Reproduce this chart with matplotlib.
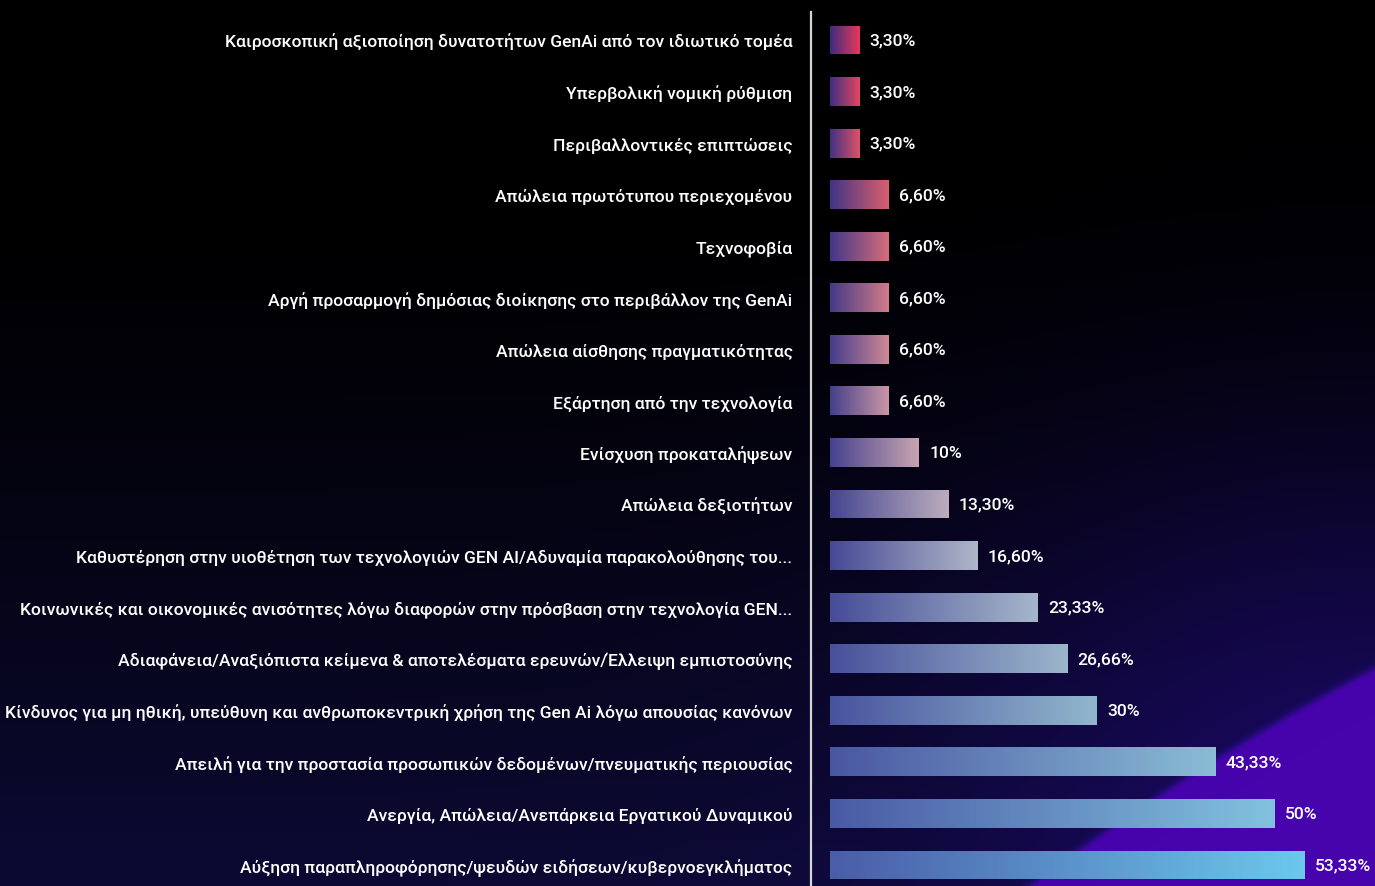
import numpy as np
import matplotlib.pyplot as plt
from matplotlib.colors import LinearSegmentedColormap, to_rgb
from matplotlib.lines import Line2D

plt.rcParams['font.family'] = ['Roboto', 'DejaVu Sans']

# δεδομένα (από πάνω προς τα κάτω)
labels = [
    'Καιροσκοπική αξιοποίηση δυνατοτήτων GenAi από τον ιδιωτικό τομέα',
    'Υπερβολική νομική ρύθμιση',
    'Περιβαλλοντικές επιπτώσεις',
    'Απώλεια πρωτότυπου περιεχομένου',
    'Τεχνοφοβία',
    'Αργή προσαρμογή δημόσιας διοίκησης στο περιβάλλον της GenAi',
    'Απώλεια αίσθησης πραγματικότητας',
    'Εξάρτηση από την τεχνολογία',
    'Ενίσχυση προκαταλήψεων',
    'Απώλεια δεξιοτήτων',
    'Καθυστέρηση στην υιοθέτηση των τεχνολογιών GEN AI/Αδυναμία παρακολούθησης του...',
    'Κοινωνικές και οικονομικές ανισότητες λόγω διαφορών στην πρόσβαση στην τεχνολογία GEN...',
    'Αδιαφάνεια/Αναξιόπιστα κείμενα & αποτελέσματα ερευνών/Έλλειψη εμπιστοσύνης',
    'Κίνδυνος για μη ηθική, υπεύθυνη και ανθρωποκεντρική χρήση της Gen Ai λόγω απουσίας κανόνων',
    'Απειλή για την προστασία προσωπικών δεδομένων/πνευματικής περιουσίας',
    'Ανεργία, Απώλεια/Ανεπάρκεια Εργατικού Δυναμικού',
    'Αύξηση παραπληροφόρησης/ψευδών ειδήσεων/κυβερνοεγκλήματος',
]
values = [3.30, 3.30, 3.30, 6.60, 6.60, 6.60, 6.60, 6.60, 10, 13.30,
          16.60, 23.33, 26.66, 30, 43.33, 50, 53.33]


def fmt(v):
    if float(v).is_integer():
        return f'{int(v)}%'
    return f'{v:.2f}'.replace('.', ',') + '%'


W, H = 1375, 887
fig = plt.figure(figsize=(W / 100, H / 100), dpi=100)

# φόντο: μαύρο προς σκούρο μπλε, με μωβ σφήνα κάτω δεξιά
yy, xx = np.mgrid[0:H, 0:W].astype(float)
t = np.clip((yy - 200) / (H - 200), 0, 1) ** 1.3
navy = np.array(to_rgb('#0c0a34'))
bg = t[..., None] * navy
glow = np.exp(-(((xx - W) / 420) ** 2 + ((yy - H) / 380) ** 2))
bg = bg + glow[..., None] * (np.array(to_rgb('#1c0868')) - bg) * 0.9
d = W - xx
edge = 670 + 0.525 * d + 0.000301 * d ** 2
purple = np.array(to_rgb('#4703ac'))
m = 1 / (1 + np.exp(-(yy - edge) / 1.2))
band = np.exp(-((yy - edge) / 6) ** 2) * 0.25
bg = bg * (1 - m[..., None]) + purple * m[..., None]
bg = bg + band[..., None] * np.array(to_rgb('#3a10a0')) * (1 - m[..., None])
bg = np.clip(bg, 0, 1)

bg_ax = fig.add_axes([0, 0, 1, 1], zorder=-1)
bg_ax.imshow(bg, aspect='auto', extent=[0, 1, 0, 1], interpolation='bilinear')
bg_ax.axis('off')

# κύριος άξονας: το μηδέν στο x=830px, 8.89 px ανά μονάδα
x0 = 830
px_per = 8.89
row = 51.56
top = 41 - row / 2
ax = fig.add_axes([x0 / W, (H - (top + row * 17)) / H, (W - x0) / W, row * 17 / H])
ax.set_facecolor('none')

n = len(values)
y = np.arange(n)
bars = ax.barh(y, values, height=0.56, color='none', edgecolor='none')

end_cmap = LinearSegmentedColormap.from_list('end', [
    (0.0, '#e8385a'), (0.19, '#d9606e'), (0.5, '#c8a4b0'), (0.625, '#b0b6c8'),
    (0.8125, '#92b6cc'), (0.94, '#82c2de'), (1.0, '#6cc8ec')])
start_cmap = LinearSegmentedColormap.from_list('start', [
    (0.0, '#3e2c80'), (0.5, '#45428e'), (1.0, '#4a5da8')])

fs = 12.6
for i, (b, v) in enumerate(zip(bars, values)):
    r = i / (n - 1)
    c0 = np.array(start_cmap(r)[:3])
    c1 = np.array(end_cmap(r)[:3])
    s = np.linspace(0, 1, 256)[None, :, None]
    grad = c0 + (c1 - c0) * s
    bx, by = b.get_x(), b.get_y()
    im = ax.imshow(grad, extent=[bx, bx + b.get_width(), by, by + b.get_height()],
                   aspect='auto', interpolation='bilinear', zorder=2)
    im.set_clip_path(b)
    ax.annotate(fmt(v), (v, i), xytext=(7.5, 0), textcoords='offset points',
                va='center', ha='left', color='white', fontsize=fs, fontweight='medium')

ax.set_xlim(0, (W - x0) / px_per)
ax.set_ylim(n - 0.5, -0.5)
ax.set_yticks(y)
ax.set_yticklabels(labels, fontsize=fs, fontweight='medium', color='white')
ax.tick_params(axis='y', length=0, pad=27)
ax.set_xticks([])
for sp in ax.spines.values():
    sp.set_visible(False)

# κάθετη διαχωριστική γραμμή
fig.add_artist(Line2D([811 / W, 811 / W], [0, 1 - 13 / H], color='#d4d4d4', lw=1.6))

fig.savefig('out.png', dpi=100)
